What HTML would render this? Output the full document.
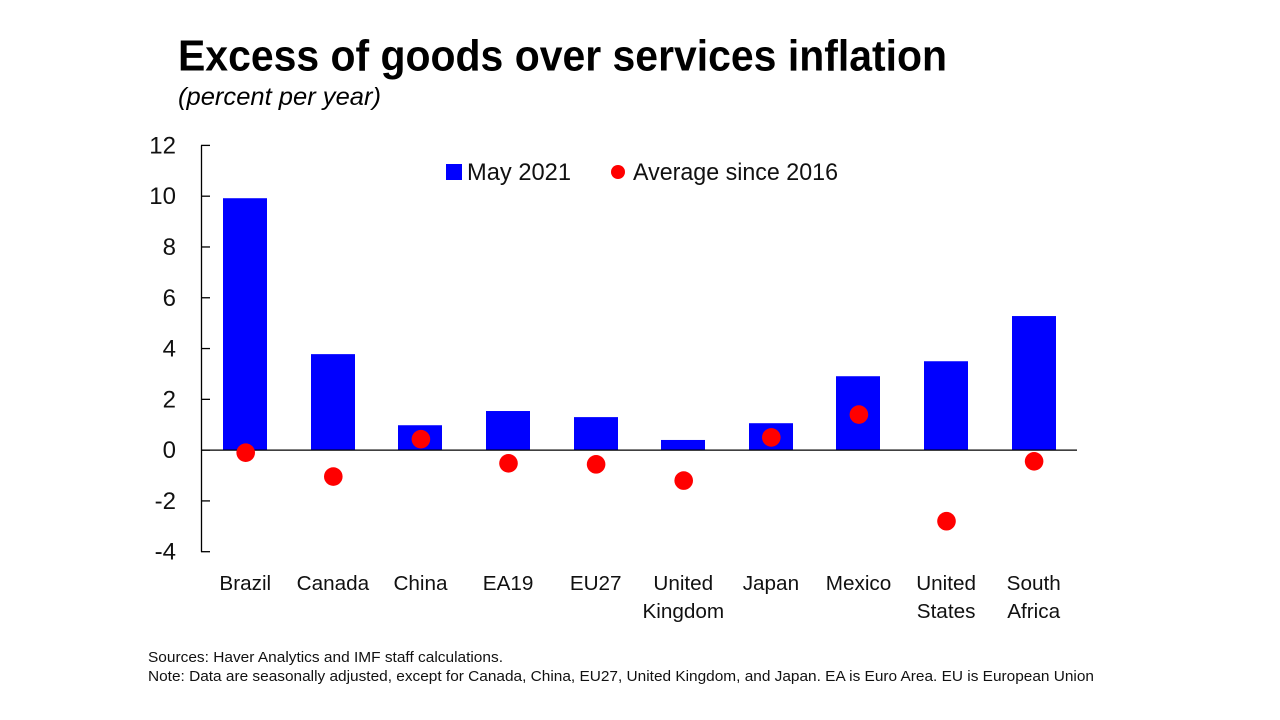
<!DOCTYPE html>
<html lang="en">
<head>
<meta charset="utf-8">
<title>Excess of goods over services inflation</title>
<style>
html,body{margin:0;padding:0;background:#fff;width:1280px;height:720px;overflow:hidden}
svg{display:block;font-family:"Liberation Sans",sans-serif}
</style>
</head>
<body>
<svg id="chart" width="1280" height="720" viewBox="0 0 1280 720">
  <rect width="1280" height="720" fill="#fff"/>
  <text x="178" y="70.5" font-size="44" font-weight="700" fill="#000" textLength="769" lengthAdjust="spacingAndGlyphs">Excess of goods over services inflation</text>
  <text x="178" y="105" font-size="25" font-style="italic" fill="#000" textLength="203" lengthAdjust="spacingAndGlyphs">(percent per year)</text>
  <g id="bars"></g>
  <g id="axes"></g>
  <g id="dots"></g>
  <g id="xlabels"></g>
  <g>
    <rect x="446" y="164" width="16" height="16" fill="#0000ff"/>
    <text x="467" y="180" font-size="24" fill="#111" textLength="104" lengthAdjust="spacingAndGlyphs">May 2021</text>
    <circle cx="618" cy="172" r="7" fill="#ff0000"/>
    <text x="633" y="180" font-size="24" fill="#111" textLength="205" lengthAdjust="spacingAndGlyphs">Average since 2016</text>
  </g>
  <text x="148" y="662" font-size="15" fill="#111" textLength="355" lengthAdjust="spacingAndGlyphs">Sources: Haver Analytics and IMF staff calculations.</text>
  <text x="148" y="681" font-size="15" fill="#111" textLength="946" lengthAdjust="spacingAndGlyphs">Note: Data are seasonally adjusted, except for Canada, China, EU27, United Kingdom, and Japan. EA is Euro Area. EU is European Union</text>
</svg>
<script>
const categories = [["Brazil"],["Canada"],["China"],["EA19"],["EU27"],["United","Kingdom"],["Japan"],["Mexico"],["United","States"],["South","Africa"]];
const may2021 = [9.92,3.78,0.98,1.54,1.30,0.40,1.06,2.91,3.50,5.28];
const averageSince2016 = [-0.10,-1.04,0.43,-0.52,-0.56,-1.20,0.50,1.40,-2.80,-0.44];
const yTicks = [12,10,8,6,4,2,0,-2,-4];

const NS = "http://www.w3.org/2000/svg";
const plotLeft = 201, plotRight = 1077, plotTop = 145.4, plotBottom = 551.7;
const yMax = 12, yMin = -4;
function yScale(v){ return plotTop + (yMax - v) / (yMax - yMin) * (plotBottom - plotTop); }
function xCenter(i){ return plotLeft + (i + 0.5) * (plotRight - plotLeft) / categories.length; }
function make(tag, attrs, parent){
  const el = document.createElementNS(NS, tag);
  for (const k in attrs) el.setAttribute(k, attrs[k]);
  parent.appendChild(el);
  return el;
}
const barsG = document.getElementById("bars");
const dotsG = document.getElementById("dots");
const axesG = document.getElementById("axes");
const xlabelsG = document.getElementById("xlabels");
const barWidth = 44;
const zeroY = yScale(0);

may2021.forEach(function(v, i){
  const top = Math.min(yScale(v), zeroY);
  const r = make("rect", {x: Math.round(xCenter(i) + 0.4 - barWidth / 2), y: top, width: barWidth, height: Math.abs(yScale(v) - zeroY), fill: "#0000ff"}, barsG);
  
  
});

const yAxisLine = make("line", {x1: plotLeft + 0.5, x2: plotLeft + 0.5, y1: plotTop, y2: plotBottom, stroke: "#000", "stroke-width": 1.3}, axesG);


const xAxisLine = make("line", {x1: plotLeft, x2: plotRight, y1: zeroY, y2: zeroY, stroke: "#000", "stroke-width": 1.3}, axesG);



yTicks.forEach(function(t){
  const y = yScale(t);
  const tick = make("line", {x1: plotLeft, x2: plotLeft + 9, y1: y, y2: y, stroke: "#000", "stroke-width": 1.3}, axesG);
  
  
  const label = make("text", {x: 176, y: y + 8, "font-size": 24, fill: "#111", "text-anchor": "end"}, axesG);
  label.textContent = String(t);
  
  
});

averageSince2016.forEach(function(v, i){
  const c = make("circle", {cx: xCenter(i) + 0.9, cy: yScale(v), r: 9.3, fill: "#ff0000"}, dotsG);
  
  
});

categories.forEach(function(lines, i){
  lines.forEach(function(line, j){
    const t = make("text", {x: xCenter(i) + 0.5, y: 590 + j * 28, "font-size": 20.7, fill: "#111", "text-anchor": "middle"}, xlabelsG);
    t.textContent = line;
    
    
  });
});
</script>
</body>
</html>
